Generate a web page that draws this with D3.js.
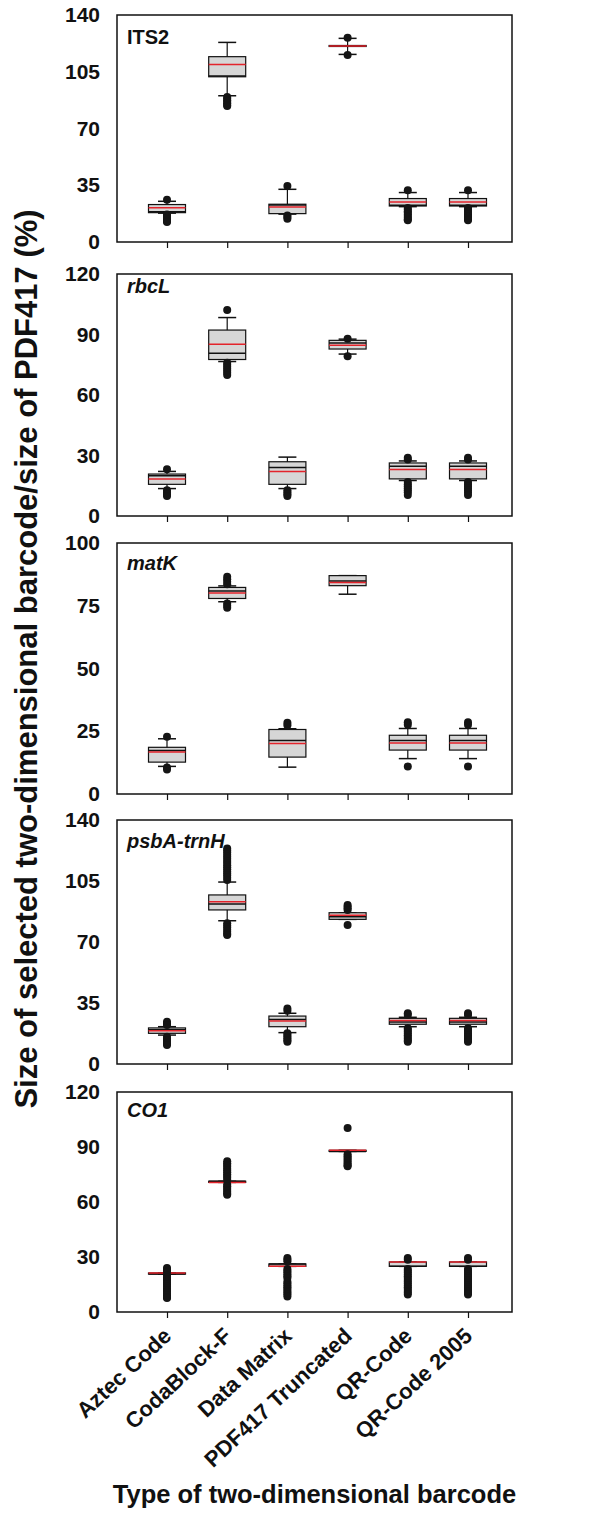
<!DOCTYPE html>
<html>
<head>
<meta charset="utf-8">
<script src="https://cdn.jsdelivr.net/npm/d3@7"></script>
<style>
  body { margin: 0; background: #fff; }
  text { font-family: "Liberation Sans", Arial, sans-serif; font-weight: bold; fill: #111; }
</style>
</head>
<body>
<div id="chart"></div>
<script>
// categories and panels
var categories = ["Aztec Code", "CodaBlock-F", "Data Matrix", "PDF417 Truncated", "QR-Code", "QR-Code 2005"];
var genes = ["ITS2", "rbcL", "matK", "psbA-trnH", "CO1"];
var geneItalic = [false, true, true, true, true];
var yMax = [140, 120, 100, 140, 120];
var yTicks = [
  [0, 35, 70, 105, 140],
  [0, 30, 60, 90, 120],
  [0, 25, 50, 75, 100],
  [0, 35, 70, 105, 140],
  [0, 30, 60, 90, 120]
];

// box stats per category: [whisker low, q1, median, q3, whisker high]
var its2Stats = [
  [17.8, 18.1, 18.6, 23.1, 25.1],
  [90.2, 101.9, 102.4, 114.3, 123.1],
  [17.2, 17.5, 22.8, 23.3, 32.5],
  [115.7, 120.6, 120.9, 121.2, 125.6],
  [21.8, 22.2, 22.6, 26.8, 30.5],
  [21.8, 22.2, 22.6, 26.8, 30.5]
];
var its2Mean = [21.2, 109.5, 21.6, 120.9, 24.7, 24.7];
var its2Outliers = [
  [26.1, 17.0, 16.0, 15.0, 14.0, 13.0, 12.4],
  [89.5, 88.5, 87.5, 86.5, 85.5, 84.5, 83.8],
  [34.6, 16.4, 15.4, 14.4],
  [126.0, 115.4],
  [31.9, 21.0, 20.0, 19.0, 18.0, 17.0, 16.0, 15.0, 14.0, 13.4],
  [31.9, 21.0, 20.0, 19.0, 18.0, 17.0, 16.0, 15.0, 14.0, 13.4]
];

var rbclStats = [
  [13.6, 15.7, 20.0, 20.8, 22.1],
  [76.6, 77.6, 80.7, 92.2, 98.4],
  [13.6, 15.7, 24.0, 26.9, 29.2],
  [80.3, 82.8, 85.8, 87.1, 87.7],
  [17.6, 18.4, 24.7, 26.3, 27.3],
  [17.6, 18.4, 24.7, 26.3, 27.3]
];
var rbclMean = [18.4, 85.2, 22.1, 84.7, 23.1, 23.1];
var rbclOutliers = [
  [23.2, 12.8, 11.8, 10.8, 9.9],
  [102.1, 76.0, 75.0, 74.0, 73.0, 72.0, 71.0, 69.9],
  [12.8, 11.8, 10.8, 9.9],
  [87.9, 79.2],
  [28.9, 28.0, 16.8, 15.8, 14.8, 13.8, 12.8, 11.8, 10.4],
  [28.9, 28.0, 16.8, 15.8, 14.8, 13.8, 12.8, 11.8, 10.4]
];

var matkStats = [
  [11.0, 12.7, 17.3, 18.6, 22.0],
  [76.6, 77.9, 80.9, 82.3, 82.9],
  [10.7, 14.7, 21.3, 25.7, 26.0],
  [79.6, 83.0, 84.9, 87.0, 87.0],
  [14.1, 17.5, 21.3, 23.4, 26.1],
  [14.1, 17.5, 21.3, 23.4, 26.1]
];
var matkMean = [16.7, 80.1, 20.1, 84.3, 20.3, 20.3];
var matkOutliers = [
  [22.8, 10.6, 9.8],
  [86.6, 85.6, 84.6, 83.6, 75.9, 75.0, 74.2],
  [28.4, 27.4],
  [],
  [28.6, 27.6, 11.0],
  [28.6, 27.6, 11.0]
];

var psbaStats = [
  [16.6, 17.6, 19.7, 20.7, 21.4],
  [82.2, 88.4, 91.8, 97.0, 104.4],
  [18.0, 21.4, 25.6, 27.5, 29.1],
  [83.0, 83.0, 84.5, 86.8, 86.8],
  [21.4, 22.8, 24.1, 26.2, 26.8],
  [21.4, 22.8, 24.1, 26.2, 26.8]
];
var psbaMean = [19.1, 93.1, 24.7, 85.3, 24.9, 24.9];
var psbaOutliers = [
  [24.3, 23.3, 22.4, 15.7, 14.7, 13.7, 12.7, 11.7, 10.9],
  [123.7, 122.5, 121.3, 120.1, 118.9, 117.7, 116.5, 115.3, 114.1, 112.9, 111.7, 110.5, 109.3, 108.1, 106.9, 105.6,
   80.7, 79.5, 78.3, 77.1, 75.9, 74.7, 74.0],
  [31.9, 30.6, 17.6, 16.6, 15.6, 14.6, 13.6, 12.8],
  [91.2, 90.2, 89.2, 88.4, 79.7],
  [29.1, 28.1, 20.5, 19.5, 18.5, 17.5, 16.5, 15.5, 14.5, 13.5, 12.8],
  [29.1, 28.1, 20.5, 19.5, 18.5, 17.5, 16.5, 15.5, 14.5, 13.5, 12.8]
];

var co1Stats = [
  [20.7, 20.7, 20.7, 21.3, 21.3],
  [70.7, 70.7, 71.3, 71.3, 71.3],
  [24.9, 24.9, 26.2, 26.2, 26.2],
  [87.6, 87.6, 87.6, 88.2, 88.2],
  [24.9, 24.9, 24.9, 27.3, 27.3],
  [24.9, 24.9, 24.9, 27.3, 27.3]
];
var co1Mean = [21.3, 70.7, 24.9, 88.2, 27.3, 27.3];
var co1Outliers = [
  [24.0, 23.0, 22.0, 20.0, 19.0, 18.0, 17.0, 16.0, 15.0, 14.0, 13.0, 12.0, 11.0, 10.0, 9.0, 8.0, 7.6],
  [82.2, 81.2, 80.2, 79.2, 78.2, 77.2, 76.2, 75.2, 74.2, 73.2, 72.2, 69.6, 68.6, 67.6, 66.6, 65.6, 64.6, 64.0],
  [29.5, 28.5, 27.5, 23.5, 22.5, 21.5, 20.5, 19.5, 18.5, 16.5, 15.5, 14.5, 13.5, 12.5, 11.5, 10.5, 9.5, 8.5],
  [100.4, 86.0, 85.0, 84.0, 83.0, 82.0, 81.0, 80.0, 79.5],
  [29.5, 28.5, 23.5, 22.5, 21.5, 20.5, 19.5, 18.5, 17.5, 16.5, 15.5, 14.5, 13.5, 12.5, 11.5, 10.5, 9.5],
  [29.5, 28.5, 23.5, 22.5, 21.5, 20.5, 19.5, 18.5, 17.5, 16.5, 15.5, 14.5, 13.5, 12.5, 11.5, 10.5, 9.5]
];

var allStats = [its2Stats, rbclStats, matkStats, psbaStats, co1Stats];
var allMeans = [its2Mean, rbclMean, matkMean, psbaMean, co1Mean];
var allOutliers = [its2Outliers, rbclOutliers, matkOutliers, psbaOutliers, co1Outliers];

// page layout
var svgWidth = 614;
var svgHeight = 1515;
var plotLeft = 117;
var plotRight = 512;
var panelTop = [15, 274, 543, 820, 1092];
var panelBottom = [242, 516, 794, 1064, 1312];
var titleOffset = [29, 19, 27, 28, 25];
var boxWidth = 37;
var capWidth = 18;

var svg = d3.select("#chart")
  .append("svg")
  .attr("width", svgWidth)
  .attr("height", svgHeight);

var x = d3.scalePoint()
  .domain(categories)
  .range([167, 468]);

genes.forEach(function(gene, p) {
  var y = d3.scaleLinear()
    .domain([0, yMax[p]])
    .range([panelBottom[p], panelTop[p]]);

  var g = svg.append("g");

  // y tick labels (no tick marks)
  var leftAxis = d3.axisLeft(y).tickValues(yTicks[p]).tickSize(0).tickPadding(17);
  var ay = g.append("g")
    .attr("transform", `translate(${plotLeft}, 0)`)
    .call(leftAxis);
  ay.select(".domain").remove();
  ay.selectAll("text")
    .attr("font-size", "21px")
    .attr("font-family", "Liberation Sans, Arial, sans-serif")
    .attr("font-weight", "bold")
    .attr("fill", "#111");

  // x ticks below each panel
  var bottomAxis = d3.axisBottom(x).tickSize(6).tickPadding(3);
  var ax = g.append("g")
    .attr("transform", `translate(0, ${panelBottom[p]})`)
    .call(bottomAxis);
  ax.select(".domain").remove();
  ax.selectAll("line").attr("stroke", "#111").attr("stroke-width", 1.2);
  if (p < genes.length - 1) {
    ax.selectAll("text").remove();
  } else {
    ax.selectAll("text")
      .attr("x", 0)
      .attr("y", 0)
      .attr("dy", "0.35em")
      .attr("transform", "translate(0, 20) rotate(-43)")
      .attr("text-anchor", "end")
      .attr("font-size", "22px")
      .attr("font-family", "Liberation Sans, Arial, sans-serif")
      .attr("font-weight", "bold")
      .attr("fill", "#111");
  }

  // frame
  g.append("rect")
    .attr("x", plotLeft)
    .attr("y", panelTop[p])
    .attr("width", plotRight - plotLeft)
    .attr("height", panelBottom[p] - panelTop[p])
    .attr("fill", "none")
    .attr("stroke", "#111")
    .attr("stroke-width", 1.5);

  // panel title
  g.append("text")
    .attr("x", plotLeft + 10)
    .attr("y", panelTop[p] + titleOffset[p])
    .attr("font-size", "20px")
    .attr("font-style", geneItalic[p] ? "italic" : "normal")
    .text(gene);

  var stats = allStats[p];
  var boxes = g.selectAll(".box")
    .data(categories)
    .enter()
    .append("g")
    .attr("transform", d => `translate(${x(d)}, 0)`);

  // whiskers
  boxes.append("line")
    .attr("x1", 0).attr("x2", 0)
    .attr("y1", (d, i) => y(stats[i][0]))
    .attr("y2", (d, i) => y(stats[i][4]))
    .attr("stroke", "#111")
    .attr("stroke-width", 1.2);
  boxes.append("line")
    .attr("x1", -capWidth / 2).attr("x2", capWidth / 2)
    .attr("y1", (d, i) => y(stats[i][0]))
    .attr("y2", (d, i) => y(stats[i][0]))
    .attr("stroke", "#111")
    .attr("stroke-width", 1.5);
  boxes.append("line")
    .attr("x1", -capWidth / 2).attr("x2", capWidth / 2)
    .attr("y1", (d, i) => y(stats[i][4]))
    .attr("y2", (d, i) => y(stats[i][4]))
    .attr("stroke", "#111")
    .attr("stroke-width", 1.5);

  // box
  boxes.append("rect")
    .attr("x", -boxWidth / 2)
    .attr("width", boxWidth)
    .attr("y", (d, i) => y(stats[i][3]))
    .attr("height", (d, i) => Math.max(1, y(stats[i][1]) - y(stats[i][3])))
    .attr("fill", "#d6d6d6")
    .attr("stroke", "#111")
    .attr("stroke-width", 1.2);

  // median (black) and mean (red)
  boxes.append("line")
    .attr("x1", -boxWidth / 2).attr("x2", boxWidth / 2)
    .attr("y1", (d, i) => y(stats[i][2]))
    .attr("y2", (d, i) => y(stats[i][2]))
    .attr("stroke", "#111")
    .attr("stroke-width", 1.5);
  boxes.append("line")
    .attr("x1", -boxWidth / 2).attr("x2", boxWidth / 2)
    .attr("y1", (d, i) => y(allMeans[p][i]))
    .attr("y2", (d, i) => y(allMeans[p][i]))
    .attr("stroke", "#e3232b")
    .attr("stroke-width", 1.5);

  // outliers
  boxes.selectAll("circle")
    .data((d, i) => allOutliers[p][i])
    .enter()
    .append("circle")
    .attr("cx", 0)
    .attr("cy", v => y(v))
    .attr("r", 4)
    .attr("fill", "#151515");
});

// axis titles
svg.append("text")
  .attr("transform", "translate(37, 659) rotate(-90)")
  .attr("text-anchor", "middle")
  .attr("font-size", "31px")
  .text("Size of selected two-dimensional barcode/size of PDF417 (%)");

svg.append("text")
  .attr("x", (plotLeft + plotRight) / 2)
  .attr("y", 1503)
  .attr("text-anchor", "middle")
  .attr("font-size", "25.5px")
  .text("Type of two-dimensional barcode");
</script>
</body>
</html>
